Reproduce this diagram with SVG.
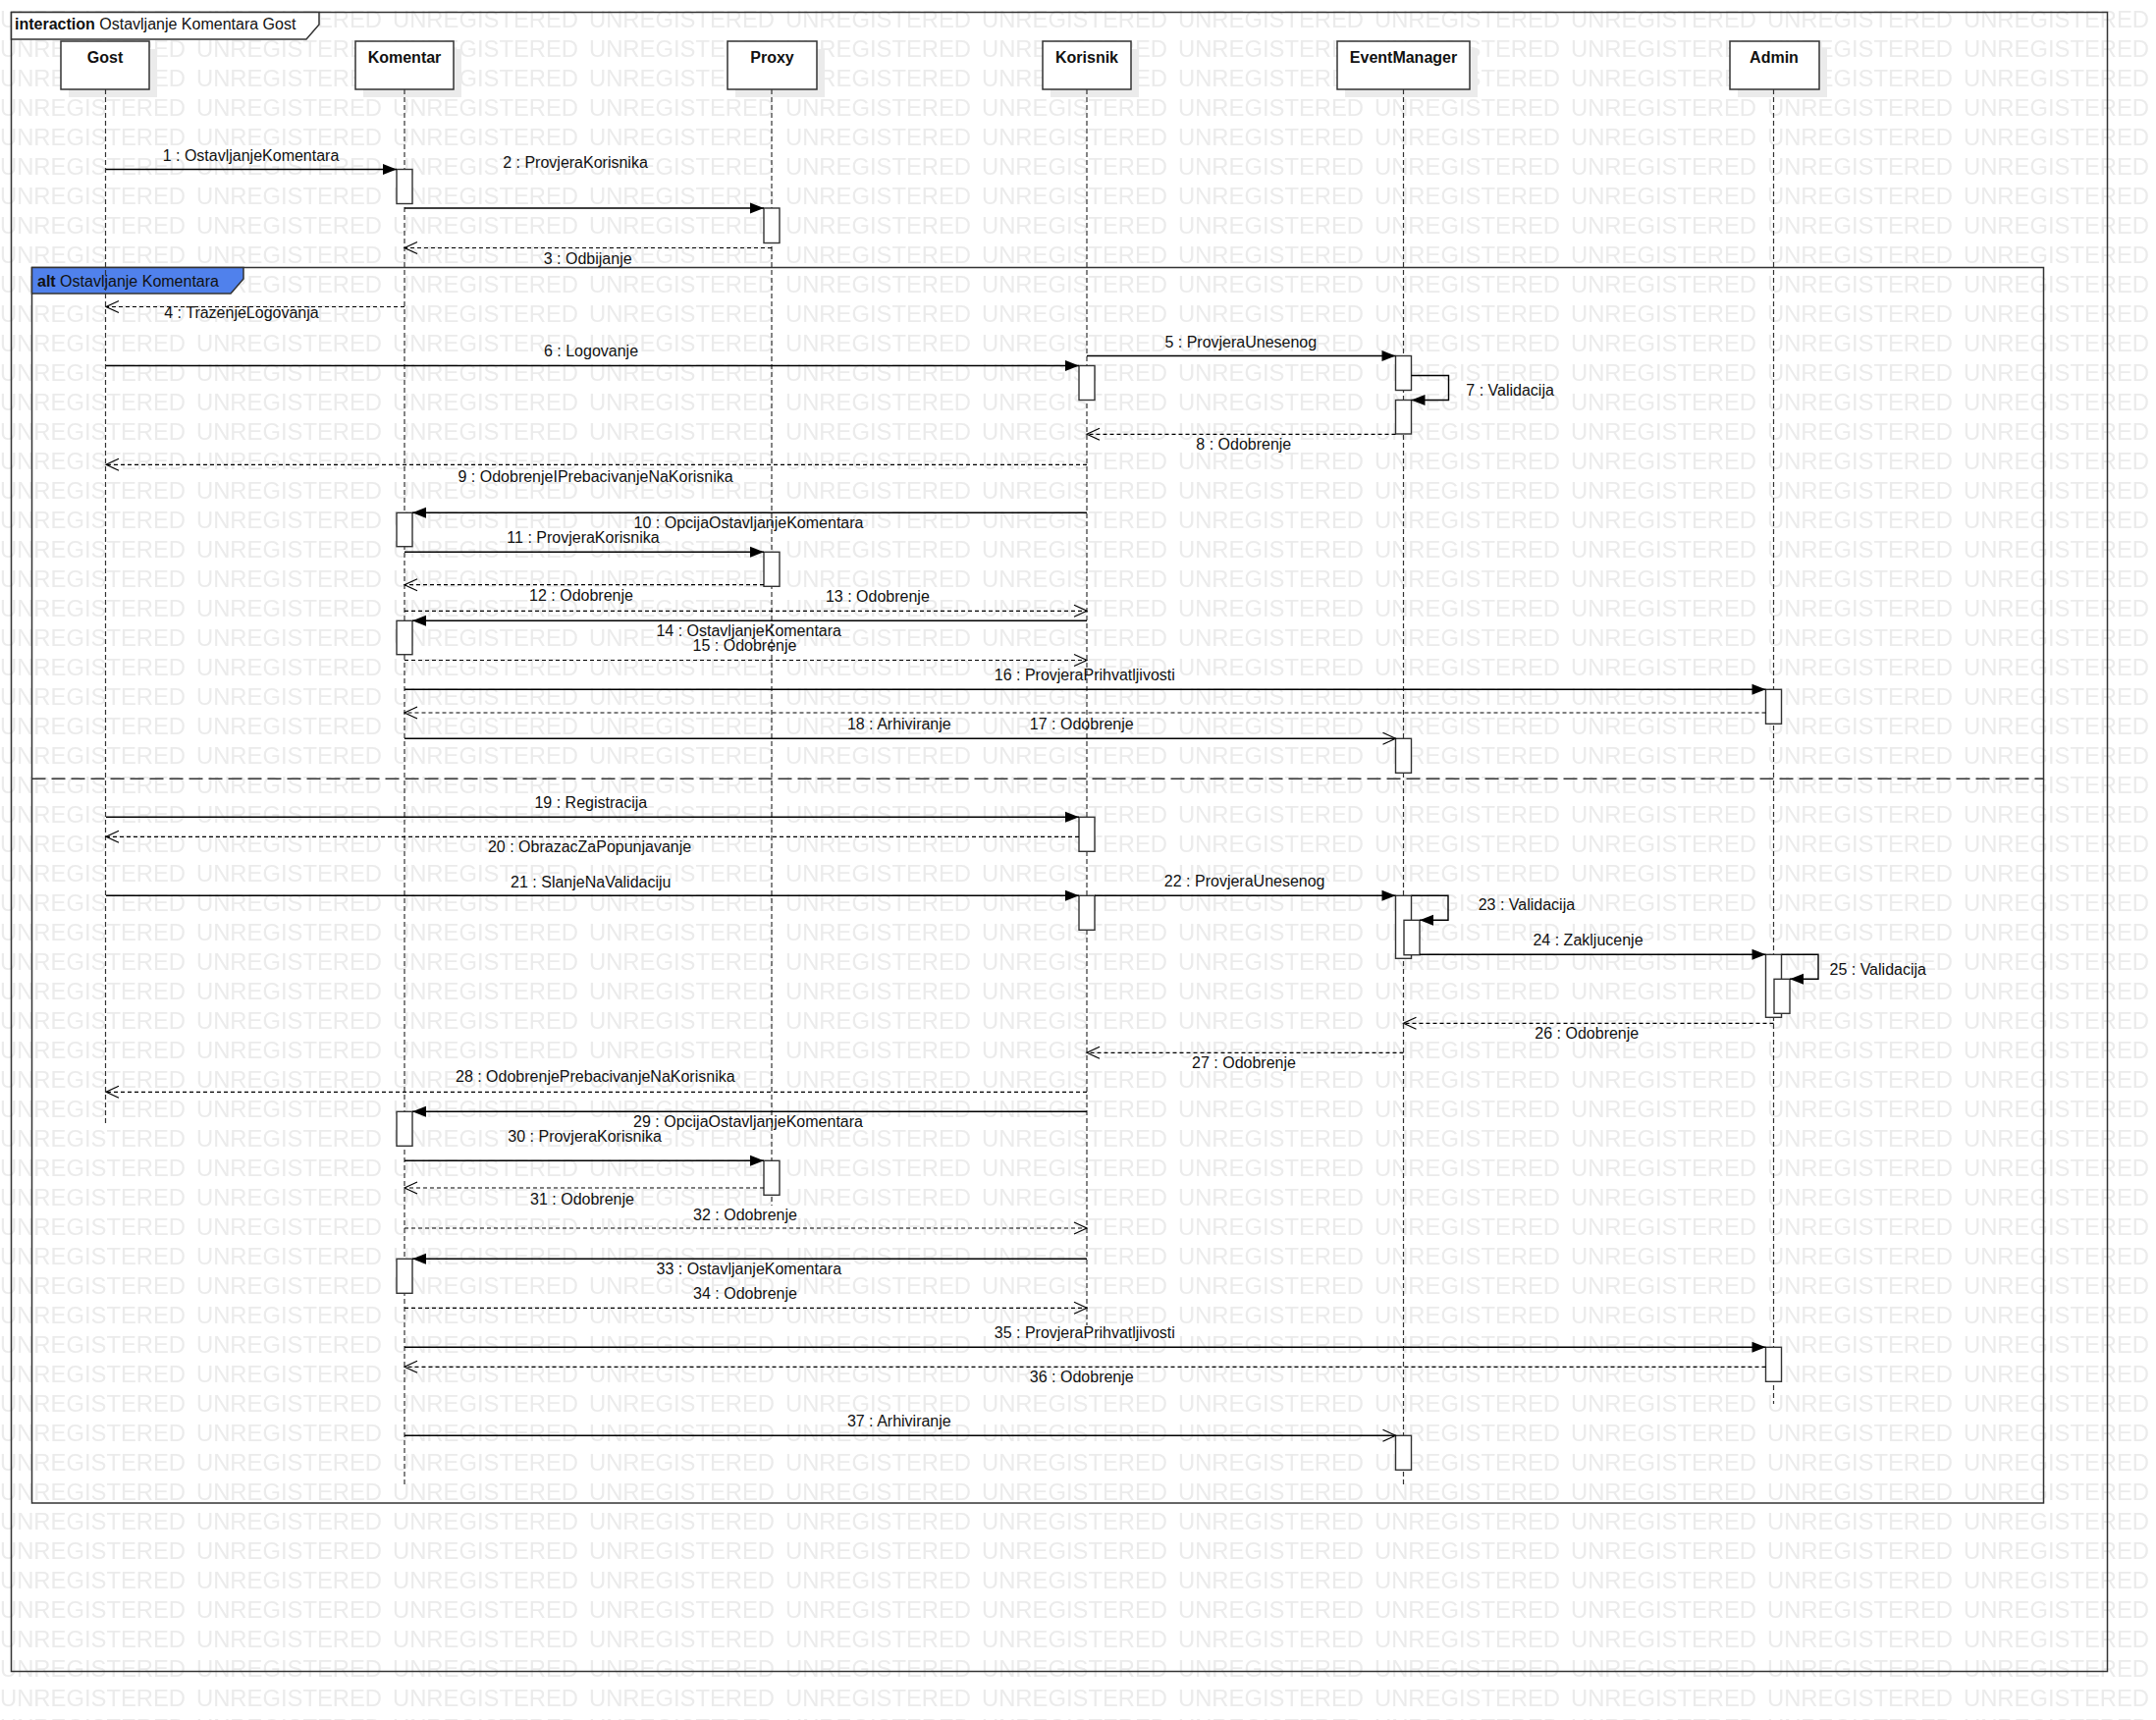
<svg xmlns="http://www.w3.org/2000/svg" width="2196" height="1752" viewBox="0 0 2196 1752">
<style>
  text{font-family:"Liberation Sans",Arial,sans-serif;font-size:16px;fill:#111}
  .b{font-weight:bold}
  .m{text-anchor:middle}
  .frame{fill:none;stroke:#333;stroke-width:1.5}
  .tab{fill:#fff;stroke:#333;stroke-width:1.5}
  .alttab{fill:#5081ec;stroke:#333;stroke-width:1.5}
  .div{stroke:#333;stroke-width:1.5;stroke-dasharray:14 6;fill:none}
  .head{fill:#fff;stroke:#333;stroke-width:1.5}
  .shadow{fill:#ebebeb}
  .life{stroke:#333;stroke-width:1.2;stroke-dasharray:5 3;fill:none}
  .act{fill:#fff;stroke:#333;stroke-width:1.4}
  .call{stroke:#000;stroke-width:1.4;fill:none;marker-end:url(#arrFill)}
  .send{stroke:#000;stroke-width:1.4;fill:none;marker-end:url(#arrOpen)}
  .ret{stroke:#000;stroke-width:1.2;stroke-dasharray:4 3;fill:none;marker-end:url(#arrOpen)}
  .wm{font-size:23px;fill:#ebebeb}
</style>
<defs>
  <pattern id="wmark" x="0" y="0" width="200" height="30" patternUnits="userSpaceOnUse">
    <text class="wm" x="0" y="28" textLength="189" lengthAdjust="spacingAndGlyphs">UNREGISTERED</text>
  </pattern>
  <marker id="arrFill" viewBox="0 0 14 12" refX="14" refY="6" markerWidth="14" markerHeight="12" markerUnits="userSpaceOnUse" orient="auto" overflow="visible">
    <path d="M0,0.5 L14,6 L0,11.5 z" fill="#000"/>
  </marker>
  <marker id="arrOpen" viewBox="0 0 14 14" refX="13" refY="7" markerWidth="14" markerHeight="14" markerUnits="userSpaceOnUse" orient="auto" overflow="visible">
    <path d="M0,1 L13,7 L0,13" fill="none" stroke="#000" stroke-width="1.2"/>
  </marker>
</defs>

<!-- background and watermark -->
<rect x="0" y="0" width="2196" height="1752" fill="#fff"/>
<rect x="0" y="0" width="2196" height="1752" fill="url(#wmark)"/>

<!-- interaction frame -->
<g id="interaction">
  <rect class="frame" x="11.5" y="12.5" width="2135" height="1690"/>
  <polygon class="tab" points="11.5,12.5 325,12.5 325,25 312,40 11.5,40"/>
  <text x="15" y="30"><tspan class="b">interaction</tspan> Ostavljanje Komentara Gost</text>
</g>

<!-- alt combined fragment -->
<g id="alt-fragment">
  <rect class="frame" x="32.5" y="272.5" width="2049" height="1258.5"/>
  <polygon class="alttab" points="32.5,272.5 248,272.5 248,284 235,299 32.5,299"/>
  <text x="38" y="291.5"><tspan class="b">alt</tspan> Ostavljanje Komentara</text>
  <line class="div" x1="32.5" y1="793.3" x2="2081.5" y2="793.3"/>
</g>

<!-- lifelines -->
<g id="gost">
  <rect class="shadow" x="70" y="50" width="90" height="49"/>
  <rect class="head" x="62" y="42" width="90" height="49"/>
  <text class="b m" x="107" y="63.5">Gost</text>
  <line class="life" x1="107.5" y1="91" x2="107.5" y2="1146"/>
</g>

<g id="komentar">
  <rect class="shadow" x="370" y="50" width="100" height="49"/>
  <rect class="head" x="362" y="42" width="100" height="49"/>
  <text class="b m" x="412" y="63.5">Komentar</text>
  <line class="life" x1="412" y1="91" x2="412" y2="1513"/>
  <rect class="act" x="404" y="172.5" width="16" height="35"/>
  <rect class="act" x="404" y="522.3" width="16" height="34.4"/>
  <rect class="act" x="404" y="632.3" width="16" height="34.4"/>
  <rect class="act" x="404" y="1132.3" width="16" height="35"/>
  <rect class="act" x="404" y="1282.3" width="16" height="35"/>
</g>

<g id="proxy">
  <rect class="shadow" x="749" y="50" width="91" height="49"/>
  <rect class="head" x="741" y="42" width="91" height="49"/>
  <text class="b m" x="786.5" y="63.5">Proxy</text>
  <line class="life" x1="786" y1="91" x2="786" y2="1228"/>
  <rect class="act" x="778" y="212" width="16" height="35.5"/>
  <rect class="act" x="778" y="562.3" width="16" height="35"/>
  <rect class="act" x="778" y="1182.3" width="16" height="35"/>
</g>

<g id="korisnik">
  <rect class="shadow" x="1070" y="50" width="90" height="49"/>
  <rect class="head" x="1062" y="42" width="90" height="49"/>
  <text class="b m" x="1107" y="63.5">Korisnik</text>
  <line class="life" x1="1107" y1="91" x2="1107" y2="1350"/>
  <rect class="act" x="1099" y="372.5" width="16" height="35"/>
  <rect class="act" x="1099" y="832.3" width="16" height="35"/>
  <rect class="act" x="1099" y="912.3" width="16" height="35"/>
</g>

<g id="eventmanager">
  <rect class="shadow" x="1370" y="50" width="135" height="49"/>
  <rect class="head" x="1362" y="42" width="135" height="49"/>
  <text class="b m" x="1429.5" y="63.5">EventManager</text>
  <line class="life" x1="1429.5" y1="91" x2="1429.5" y2="1513"/>
  <rect class="act" x="1421.5" y="362.5" width="16" height="35"/>
  <rect class="act" x="1421.5" y="407.5" width="16" height="34.5"/>
  <rect class="act" x="1421.5" y="752.3" width="16" height="35"/>
  <rect class="act" x="1421.5" y="912.3" width="16" height="64"/>
  <rect class="act" x="1430" y="937.3" width="16" height="35.4"/>
  <rect class="act" x="1421.5" y="1462.3" width="16" height="35"/>
</g>

<g id="admin">
  <rect class="shadow" x="1770" y="50" width="91" height="49"/>
  <rect class="head" x="1762" y="42" width="91" height="49"/>
  <text class="b m" x="1807" y="63.5">Admin</text>
  <line class="life" x1="1806.5" y1="91" x2="1806.5" y2="1430"/>
  <rect class="act" x="1798.5" y="702.3" width="16" height="35"/>
  <rect class="act" x="1798.5" y="972.3" width="16" height="64"/>
  <rect class="act" x="1807" y="997.3" width="16" height="35"/>
  <rect class="act" x="1798.5" y="1372.3" width="16" height="35"/>
</g>

<!-- messages -->
<g id="messages">
  <line class="call" x1="108" y1="172.5" x2="404" y2="172.5"/>
  <text class="m" x="255.5" y="164">1 : OstavljanjeKomentara</text>

  <line class="call" x1="412" y1="212" x2="778" y2="212"/>
  <text class="m" x="586" y="170.7">2 : ProvjeraKorisnika</text>

  <line class="ret" x1="786" y1="252.5" x2="412" y2="252.5"/>
  <text class="m" x="598.7" y="269.3">3 : Odbijanje</text>

  <line class="ret" x1="412" y1="312.5" x2="108" y2="312.5"/>
  <text class="m" x="246" y="324.3">4 : TrazenjeLogovanja</text>

  <line class="call" x1="1107" y1="362.5" x2="1421.5" y2="362.5"/>
  <text class="m" x="1263.8" y="354">5 : ProvjeraUnesenog</text>

  <line class="call" x1="108" y1="372.5" x2="1099" y2="372.5"/>
  <text class="m" x="602" y="363.3">6 : Logovanje</text>

  <path class="call" d="M1437.5,382.5 H1475.5 V407.5 H1437.5"/>
  <text x="1493.3" y="403.3">7 : Validacija</text>

  <line class="ret" x1="1421.5" y1="442.3" x2="1107" y2="442.3"/>
  <text class="m" x="1266.8" y="458.3">8 : Odobrenje</text>

  <line class="ret" x1="1107" y1="473.3" x2="108" y2="473.3"/>
  <text class="m" x="606.6" y="490.7">9 : OdobrenjeIPrebacivanjeNaKorisnika</text>

  <line class="call" x1="1107" y1="522.3" x2="420" y2="522.3"/>
  <text class="m" x="762.5" y="538.3">10 : OpcijaOstavljanjeKomentara</text>

  <line class="call" x1="412" y1="562.3" x2="778" y2="562.3"/>
  <text class="m" x="594" y="553.3">11 : ProvjeraKorisnika</text>

  <line class="ret" x1="778" y1="595.7" x2="412" y2="595.7"/>
  <text class="m" x="592" y="612.3">12 : Odobrenje</text>

  <line class="ret" x1="412" y1="622.3" x2="1107" y2="622.3"/>
  <text class="m" x="893.9" y="613.3">13 : Odobrenje</text>

  <line class="call" x1="1107" y1="632.3" x2="420" y2="632.3"/>
  <text class="m" x="762.7" y="648.3">14 : OstavljanjeKomentara</text>

  <line class="ret" x1="412" y1="672.5" x2="1107" y2="672.5"/>
  <text class="m" x="758.5" y="663.3">15 : Odobrenje</text>

  <line class="call" x1="412" y1="702.3" x2="1798.5" y2="702.3"/>
  <text class="m" x="1104.8" y="693.3">16 : ProvjeraPrihvatljivosti</text>

  <line class="ret" x1="1798.5" y1="726" x2="412" y2="726"/>
  <text class="m" x="1101.8" y="743.3">17 : Odobrenje</text>

  <line class="send" x1="412" y1="752.3" x2="1421.5" y2="752.3"/>
  <text class="m" x="915.8" y="743.3">18 : Arhiviranje</text>

  <line class="call" x1="108" y1="832.3" x2="1099" y2="832.3"/>
  <text class="m" x="601.8" y="823.3">19 : Registracija</text>

  <line class="ret" x1="1099" y1="852.3" x2="108" y2="852.3"/>
  <text class="m" x="600.6" y="868.3">20 : ObrazacZaPopunjavanje</text>

  <line class="call" x1="108" y1="912.3" x2="1099" y2="912.3"/>
  <text class="m" x="601.8" y="904">21 : SlanjeNaValidaciju</text>

  <line class="call" x1="1115" y1="912.3" x2="1421.5" y2="912.3"/>
  <text class="m" x="1267.7" y="903.3">22 : ProvjeraUnesenog</text>

  <path class="call" d="M1437.5,912.3 H1475 V937.3 H1446"/>
  <text x="1505.7" y="927.3">23 : Validacija</text>

  <line class="call" x1="1446" y1="972.3" x2="1798.5" y2="972.3"/>
  <text class="m" x="1617.5" y="963.3">24 : Zakljucenje</text>

  <path class="call" d="M1814.5,972.3 H1852 V997.3 H1823"/>
  <text x="1863.5" y="993.3">25 : Validacija</text>

  <line class="ret" x1="1806.5" y1="1042.3" x2="1429.5" y2="1042.3"/>
  <text class="m" x="1616.3" y="1058.3">26 : Odobrenje</text>

  <line class="ret" x1="1429.5" y1="1072.3" x2="1107" y2="1072.3"/>
  <text class="m" x="1267" y="1088.3">27 : Odobrenje</text>

  <line class="ret" x1="1107" y1="1112.3" x2="108" y2="1112.3"/>
  <text class="m" x="606.3" y="1101.7">28 : OdobrenjePrebacivanjeNaKorisnika</text>

  <line class="call" x1="1107" y1="1132.3" x2="420" y2="1132.3"/>
  <text class="m" x="762" y="1148.3">29 : OpcijaOstavljanjeKomentara</text>

  <line class="call" x1="412" y1="1182.3" x2="778" y2="1182.3"/>
  <text class="m" x="595.6" y="1163.3">30 : ProvjeraKorisnika</text>

  <line class="ret" x1="778" y1="1210" x2="412" y2="1210"/>
  <text class="m" x="593" y="1226.7">31 : Odobrenje</text>

  <line class="ret" x1="412" y1="1251" x2="1107" y2="1251"/>
  <text class="m" x="759" y="1242.7">32 : Odobrenje</text>

  <line class="call" x1="1107" y1="1282.3" x2="420" y2="1282.3"/>
  <text class="m" x="762.8" y="1298.3">33 : OstavljanjeKomentara</text>

  <line class="ret" x1="412" y1="1332.3" x2="1107" y2="1332.3"/>
  <text class="m" x="759" y="1323.3">34 : Odobrenje</text>

  <line class="call" x1="412" y1="1372.3" x2="1798.5" y2="1372.3"/>
  <text class="m" x="1104.8" y="1363.3">35 : ProvjeraPrihvatljivosti</text>

  <line class="ret" x1="1798.5" y1="1392.3" x2="412" y2="1392.3"/>
  <text class="m" x="1101.8" y="1408.3">36 : Odobrenje</text>

  <line class="send" x1="412" y1="1462.3" x2="1421.5" y2="1462.3"/>
  <text class="m" x="915.8" y="1453.3">37 : Arhiviranje</text>
</g>
</svg>
